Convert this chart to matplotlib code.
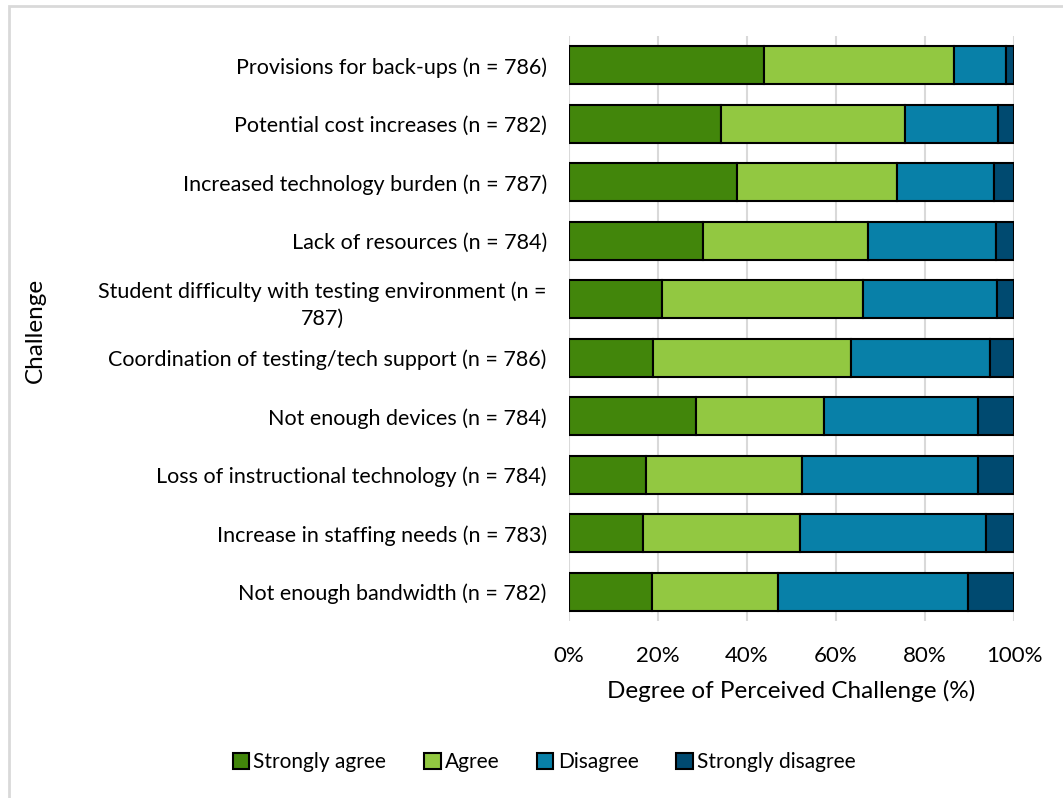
import matplotlib.pyplot as plt
from matplotlib.patches import Rectangle
import numpy as np

# Challenges, listed top to bottom as in the chart.
challenges = [
    'Provisions for back-ups (n = 786)',
    'Potential cost increases (n = 782)',
    'Increased technology burden (n = 787)',
    'Lack of resources (n = 784)',
    'Student difficulty with testing environment (n =\n787)',
    'Coordination of testing/tech support (n = 786)',
    'Not enough devices (n = 784)',
    'Loss of instructional technology (n = 784)',
    'Increase in staffing needs (n = 783)',
    'Not enough bandwidth (n = 782)',
]

# Percent of respondents in each response category.
strongly_agree = [43.9, 34.2, 37.8, 30.2, 20.9, 18.9, 28.5, 17.2, 16.6, 18.7]
agree = [42.7, 41.2, 35.9, 37.1, 45.2, 44.5, 28.9, 35.2, 35.3, 28.3]
disagree = [11.6, 21.0, 21.9, 28.7, 30.1, 31.3, 34.6, 39.5, 41.7, 42.7]
strongly_disagree = [1.8, 3.6, 4.4, 4.0, 3.8, 5.3, 8.1, 8.1, 6.4, 10.3]

responses = ['Strongly agree', 'Agree', 'Disagree', 'Strongly disagree']
colors = ['#42860B', '#92C841', '#0880A8', '#004A70']

plt.rcParams['font.family'] = ['Lato', 'DejaVu Sans']

fig = plt.figure(figsize = (10.63, 7.98), dpi = 100)
ax = fig.add_axes([569/1063, 1 - 621/798, 445/1063, 585/798])

# Light frame of the chart area.
fig.patches.append(Rectangle((8.5/1063, -0.1), 1.2, 1 - 6.5/798 + 0.1,
    transform = fig.transFigure, fill = False, edgecolor = '#D9D9D9',
    linewidth = 2))

y = np.arange(len(challenges))
left = np.zeros(len(challenges))
for values, label, color in zip(
        [strongly_agree, agree, disagree, strongly_disagree], responses, colors):
    ax.barh(y, values, left = left, height = 0.65, color = color,
        edgecolor = 'black', linewidth = 1.5, label = label, zorder = 3)
    left += np.array(values)

ax.set_xlim(0, 100)
ax.set_ylim(len(challenges) - 0.5, -0.5)
ax.set_yticks(y)
ax.set_yticklabels(challenges, fontsize = 15.5, multialignment = 'center',
    linespacing = 1.45)
ax.set_xticks(np.arange(0, 101, 20))
ax.set_xticklabels([f'{v}%' for v in range(0, 101, 20)], fontsize = 16)
ax.tick_params(axis = 'y', length = 0, pad = 16)
ax.tick_params(axis = 'x', length = 0, pad = 18)
ax.grid(axis = 'x', color = '#D9D9D9', linewidth = 1.5, zorder = 0)
for spine in ax.spines.values():
    spine.set_visible(False)

ax.set_xlabel('Degree of Perceived Challenge (%)', fontsize = 17.5, labelpad = 10)
fig.text(35/1063, 1 - 330/798, 'Challenge', rotation = 90, fontsize = 17.5,
    ha = 'center', va = 'center')

fig.legend(loc = 'center', bbox_to_anchor = (544/1063, 1 - 762/798),
    ncol = 4, frameon = False, fontsize = 15, handlelength = 0.8,
    handleheight = 0.8, handletextpad = 0.2, columnspacing = 1.8)

plt.savefig('out.png', dpi = 100)
